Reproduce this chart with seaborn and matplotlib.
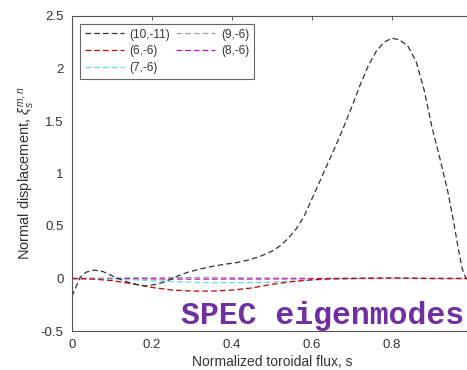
import matplotlib
matplotlib.use("Agg")
import matplotlib.pyplot as plt
import numpy as np
import pandas as pd
import seaborn as sns

# Dominant mode (10,-11)
s_main = [0.0, 0.01, 0.02, 0.035, 0.055, 0.075, 0.095, 0.115, 0.14, 0.165, 0.185,
          0.205, 0.225, 0.245, 0.265, 0.29, 0.32, 0.35, 0.38, 0.41, 0.44, 0.47,
          0.50, 0.52, 0.54, 0.56, 0.58, 0.60, 0.62, 0.64, 0.66, 0.68, 0.70, 0.72,
          0.74, 0.76, 0.78, 0.80, 0.82, 0.84, 0.86, 0.88, 0.90, 0.92, 0.94, 0.955,
          0.965, 0.975, 0.985, 1.0]
xi_10_11 = [-0.17, -0.08, 0.01, 0.06, 0.08, 0.07, 0.035, 0.0, -0.035, -0.06, -0.07,
            -0.06, -0.04, -0.01, 0.025, 0.06, 0.09, 0.115, 0.135, 0.15, 0.175, 0.21,
            0.26, 0.31, 0.38, 0.47, 0.59, 0.76, 0.93, 1.10, 1.27, 1.45, 1.64, 1.84,
            2.02, 2.16, 2.25, 2.29, 2.27, 2.21, 2.07, 1.80, 1.44, 1.14, 0.82, 0.52,
            0.30, 0.10, 0.0, 0.0]

# Weaker modes
s_side = [0.0, 0.05, 0.1, 0.15, 0.2, 0.25, 0.3, 0.35, 0.4, 0.45, 0.5, 0.55,
          0.6, 0.65, 0.7, 0.8, 0.9, 1.0]
xi_6_6 = [0.0, -0.005, -0.02, -0.05, -0.085, -0.11, -0.12, -0.12, -0.11, -0.09,
          -0.055, -0.03, -0.012, -0.003, 0.0, 0.005, 0.0, 0.0]
xi_7_6 = [0.0, -0.002, -0.005, -0.012, -0.02, -0.028, -0.035, -0.04, -0.04, -0.038,
          -0.035, -0.025, -0.015, -0.008, -0.003, 0.0, 0.0, 0.0]
xi_9_6 = [0.0, 0.002, 0.004, 0.006, 0.008, 0.01, 0.01, 0.01, 0.008, 0.006,
          0.004, 0.003, 0.002, 0.001, 0.0, 0.0, 0.0, 0.0]
xi_8_6 = [0.0, 0.0, 0.0, -0.002, -0.004, -0.005, -0.006, -0.006, -0.005, -0.005,
          -0.004, -0.003, -0.002, 0.0, 0.002, 0.003, 0.0, 0.0]

mode_labels = ["(10,-11)", "(6,-6)", "(7,-6)", "(9,-6)", "(8,-6)"]
mode_colors = ["#333333", "#c00000", "#5fe0e0", "#a0a0a0", "#cc00cc"]

x_ticks = [0, 0.2, 0.4, 0.6, 0.8, 1.0]
x_tick_labels = ["0", "0.2", "0.4", "0.6", "0.8", "1"]
y_ticks = [-0.5, 0, 0.5, 1, 1.5, 2, 2.5]
y_tick_labels = ["-0.5", "0", "0.5", "1", "1.5", "2", "2.5"]

frames = [pd.DataFrame({"s": s_main, "xi": xi_10_11, "mode": "(10,-11)"})]
for lab, vals in [("(6,-6)", xi_6_6), ("(7,-6)", xi_7_6),
                  ("(9,-6)", xi_9_6), ("(8,-6)", xi_8_6)]:
    frames.append(pd.DataFrame({"s": s_side, "xi": vals, "mode": lab}))
df = pd.concat(frames, ignore_index=True)

sns.set_theme(style="white")
plt.rcParams["font.family"] = ["Liberation Sans", "DejaVu Sans"]
plt.rcParams["mathtext.fontset"] = "custom"
plt.rcParams["mathtext.rm"] = "Liberation Sans"
plt.rcParams["mathtext.it"] = "Liberation Sans:italic"

fig = plt.figure(figsize=(4.67, 3.70), dpi=100)
ax = fig.add_axes([72 / 467, 39 / 370, 400 / 467, 315 / 370])

# draw order: small modes first, dominant mode on top
for lab in ["(9,-6)", "(8,-6)", "(7,-6)", "(6,-6)", "(10,-11)"]:
    sub = df[df["mode"] == lab]
    sns.lineplot(data=sub, x="s", y="xi", ax=ax, color=mode_colors[mode_labels.index(lab)],
                 linewidth=0.9, linestyle=(0, (4.5, 2.5)), label=lab, sort=False,
                 legend=False)

ax.set_xlim(0, 1)
ax.set_ylim(-0.5, 2.5)
ax.set_xticks(x_ticks)
ax.set_xticklabels(x_tick_labels)
ax.set_yticks(y_ticks)
ax.set_yticklabels(y_tick_labels)
ax.tick_params(direction="in", length=3, width=0.6, top=True, right=True,
               labelsize=9.5, colors="#444444", labelcolor="#333333", pad=6)
for sp in ax.spines.values():
    sp.set_color("#555555")
    sp.set_linewidth(0.8)

ax.set_xlabel("Normalized toroidal flux, s", fontsize=10, color="#333333", labelpad=3)
ax.set_ylabel(r"Normal displacement, $\xi_s^{m,n}$", fontsize=10.5, color="#333333",
              labelpad=3)

handles = {l.get_label(): l for l in ax.get_lines()}
leg = ax.legend([handles[l] for l in mode_labels], mode_labels, ncol=2,
                loc="upper left", bbox_to_anchor=(0.02, 0.975), borderaxespad=0,
                fontsize=8.5, handlelength=3.3, handletextpad=0.5, columnspacing=0.5,
                labelspacing=0.4, borderpad=0.4, frameon=True, fancybox=False,
                framealpha=1, edgecolor="#666666")
leg.get_frame().set_linewidth(0.8)
for t in leg.get_texts():
    t.set_color("#333333")

fig.text(181 / 467, 46 / 370, "SPEC eigenmodes", family="Liberation Mono",
         fontweight="bold", fontsize=22.7, color="#7030a0", va="baseline", ha="left")

fig.savefig("out.png", dpi=100)
